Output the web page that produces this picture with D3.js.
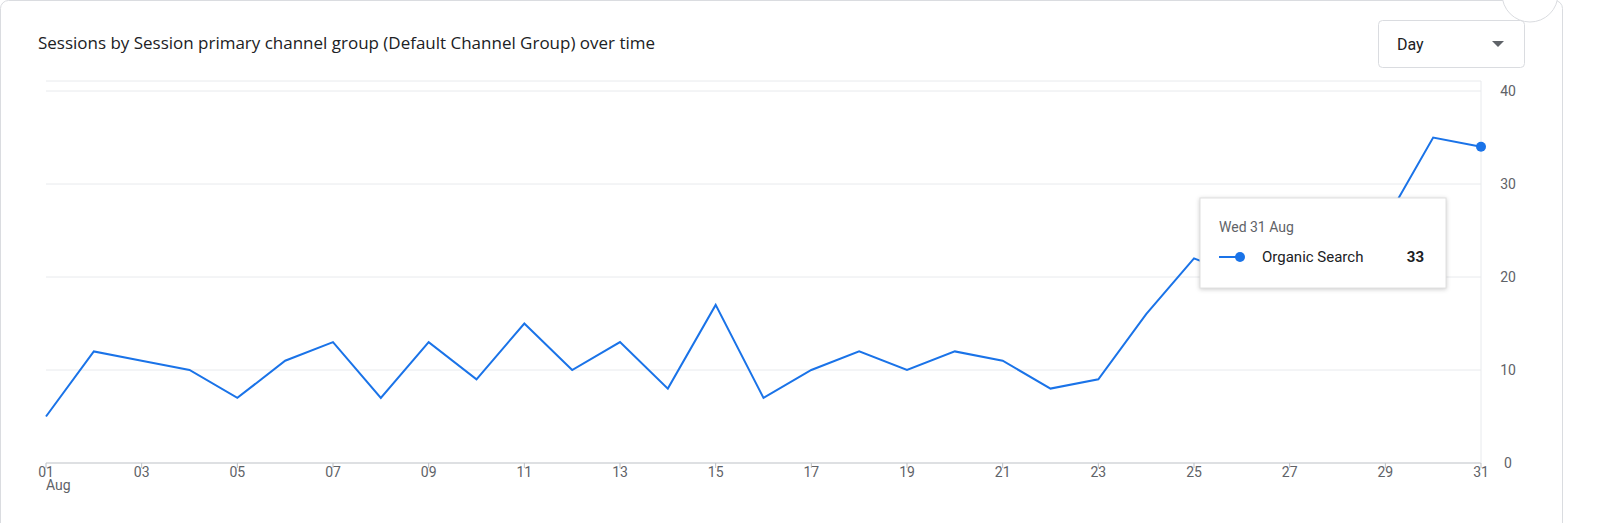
<!DOCTYPE html><html><head><meta charset="utf-8">
<script src="https://cdn.jsdelivr.net/npm/d3@7"></script>
<style>html,body{margin:0;background:#fff;font-family:Roboto,"Noto Sans",sans-serif;overflow:hidden}svg{display:block}</style></head><body>
<svg id="c" width="1600" height="523"></svg>
<script>
const days=d3.range(1,32);
const sessions=[5,12,11,10,7,11,13,7,13,9,15,10,13,8,17,7,10,12,10,12,11,8,9,16,22,20,25,26,26,35,34];
const yTicks=[0,10,20,30,40];
const xTickDays=[1,3,5,7,9,11,13,15,17,19,21,23,25,27,29,31];
const svg=d3.select("#c");
svg.append("rect").attr("x",0.5).attr("y",0.5).attr("width",1562).attr("height",540).attr("rx",8).attr("fill","#fff").attr("stroke","#dadce0");
svg.append("text").attr("x",38).attr("y",49).text("Sessions by Session primary channel group (Default Channel Group) over time").attr("font-size",16).attr("font-family","'Open Sans',sans-serif").attr("font-weight",500).attr("fill","#202124").attr("textLength",617).attr("lengthAdjust","spacingAndGlyphs");
svg.append("rect").attr("x",1378.5).attr("y",20.5).attr("width",146).attr("height",47).attr("rx",4).attr("fill","#fff").attr("stroke","#dadce0");
svg.append("text").attr("x",1397).attr("y",50).text("Day").attr("font-size",16).attr("fill","#202124");
svg.append("path").attr("d","M1492,41 L1504,41 L1498,47 Z").attr("fill","#5f6368");
svg.append("circle").attr("cx",1530).attr("cy",-6).attr("r",28).attr("fill","#fff").attr("stroke","#dadce0");
const x=d3.scaleLinear().domain([1,31]).range([46,1481]);
const y=d3.scaleLinear().domain([0,40]).range([463,91]);
const g=svg.append("g");
yTicks.forEach(t=>{g.append("line").attr("x1",46).attr("x2",1481).attr("y1",y(t)).attr("y2",y(t)).attr("stroke",t==0?"#bdc1c6":"#e8eaed");
 g.append("text").attr("x",1508).attr("y",y(t)+5).attr("text-anchor","middle").attr("font-size",14).attr("fill","#5f6368").text(t);});
g.append("line").attr("x1",46).attr("x2",1481).attr("y1",81).attr("y2",81).attr("stroke","#e8eaed");
g.append("line").attr("x1",1481).attr("x2",1481).attr("y1",81).attr("y2",463).attr("stroke","#e8eaed");
xTickDays.forEach(d=>{g.append("line").attr("x1",x(d)).attr("x2",x(d)).attr("y1",463).attr("y2",468).attr("stroke","#bdc1c6");
 g.append("text").attr("x",x(d)).attr("y",463).attr("dy","1.0em").attr("text-anchor","middle").attr("font-size",14).attr("fill","#5f6368").text(String(d).padStart(2,"0"));});
g.append("text").attr("x",46).attr("y",490).attr("text-anchor","start").attr("font-size",14).attr("fill","#5f6368").text("Aug");
g.append("path").datum(sessions).attr("fill","none").attr("stroke","#1a73e8").attr("stroke-width",2)
 .attr("d",d3.line().x((v,i)=>x(days[i])).y(v=>y(v)));
g.append("circle").attr("cx",x(31)).attr("cy",y(sessions[30])).attr("r",5).attr("fill","#1a73e8");
const tt=svg.append("g");
tt.append("rect").attr("x",1200).attr("y",198).attr("width",246).attr("height",90).attr("fill","#fff").attr("stroke","#e0e0e0").style("filter","drop-shadow(0 1px 2px rgba(0,0,0,0.2))");
tt.append("text").attr("x",1219).attr("y",232).attr("font-size",14).attr("fill","#5f6368").text("Wed 31 Aug");
tt.append("line").attr("x1",1219).attr("x2",1240).attr("y1",257).attr("y2",257).attr("stroke","#1a73e8").attr("stroke-width",2);
tt.append("circle").attr("cx",1240).attr("cy",257).attr("r",5).attr("fill","#1a73e8");
tt.append("text").attr("x",1262).attr("y",262).attr("font-size",15).attr("fill","#202124").text("Organic Search");
tt.append("text").attr("x",1424).attr("y",262).attr("text-anchor","end").attr("font-size",15).attr("font-weight",700).attr("fill","#202124").text("33");
</script></body></html>
